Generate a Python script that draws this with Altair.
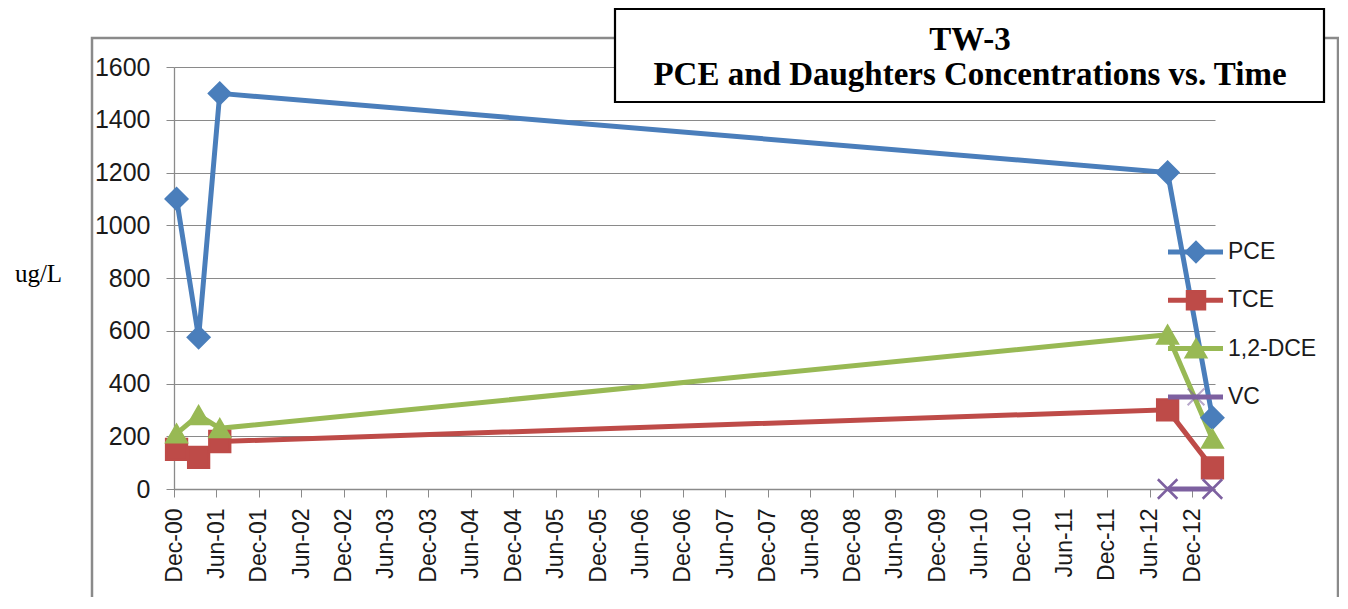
import altair as alt
import pandas as pd

# ---- data ----
dates = ["2000-12-12", "2001-03-17", "2001-06-16", "2012-08-18", "2013-02-27"]
pce = [1100, 575, 1500, 1200, 270]
tce = [150, 120, 180, 300, 80]
dce = [210, 280, 230, 585, 190]
vc = [None, None, None, 0, 0]

series = ["PCE", "TCE", "1,2-DCE", "VC"]
colors = ["#4A7EBB", "#BE4B48", "#98B954", "#7D60A0"]
shapes = ["diamond", "square", "triangle-up", "M-1,-1L1,1M-1,1L1,-1"]
sizes = [460, 380, 480, 330]
y_ticks = [0, 200, 400, 600, 800, 1000, 1200, 1400, 1600]
title_lines = ["TW-3", "PCE and Daughters Concentrations vs. Time"]
y_title = "ug/L"

rows = []
for name, vals in zip(series, [pce, tce, dce, vc]):
    for d, v in zip(dates, vals):
        if v is not None:
            rows.append({"date": d, "value": v, "series": name})
df = pd.DataFrame(rows)

tick_vals = []
for i in range(25):
    if i % 2 == 0:
        tick_vals.append(alt.DateTime(year=2000 + i // 2, month=12, date=1, utc=True))
    else:
        tick_vals.append(alt.DateTime(year=2000 + (i + 1) // 2, month=6, date=1, utc=True))

GRAY = "#8A8A8A"
W, H = 1041, 422

x_enc = alt.X(
    "date:T",
    title=None,
    scale=alt.Scale(
        type="utc",
        domain=[alt.DateTime(year=2000, month=12, date=1, utc=True),
                alt.DateTime(year=2013, month=3, date=10, utc=True)],
    ),
    axis=alt.Axis(
        values=tick_vals, format="%b-%y", labelAngle=-90, labelAlign="right",
        labelBaseline="middle", labelFont="Liberation Sans", labelFontSize=23,
        labelColor="#1a1a1a", labelPadding=11, labelOverlap=False, tickSize=8,
        tickColor=GRAY, domainColor=GRAY, domainWidth=1.3, grid=False,
    ),
)
y_enc = alt.Y(
    "value:Q",
    scale=alt.Scale(domain=[0, 1600], nice=False, zero=True),
    axis=alt.Axis(
        values=y_ticks, format="d", grid=True, gridColor=GRAY, gridWidth=1.2,
        labelFont="Liberation Sans", labelFontSize=25, labelColor="#1a1a1a",
        labelPadding=16, tickSize=8, tickColor=GRAY, domainColor=GRAY, domainWidth=1.3,
        title=y_title, titleAngle=0, titleFont="Liberation Serif", titleFontSize=25,
        titleFontWeight="normal", titleColor="#000000", titleX=-136, titleY=206,
        titleAlign="center", titleBaseline="middle",
    ),
)
color_scale = alt.Scale(domain=series, range=colors)

base = alt.Chart(df)
lines = base.mark_line(strokeWidth=5).encode(
    x=x_enc, y=y_enc,
    color=alt.Color("series:N", scale=color_scale, legend=None),
    detail="series:N",
)
points = base.mark_point(filled=True, strokeWidth=2.5, opacity=1).encode(
    x=x_enc, y=y_enc,
    fill=alt.Fill("series:N", scale=color_scale, legend=None),
    stroke=alt.Stroke("series:N", scale=color_scale, legend=None),
    shape=alt.Shape("series:N", scale=alt.Scale(domain=series, range=shapes), legend=None),
    size=alt.Size("series:N", scale=alt.Scale(domain=series, range=sizes), legend=None),
)

one = pd.DataFrame({"k": [0]})
frame = alt.Chart(one).mark_rect(fill="transparent", stroke=GRAY, strokeWidth=2.5).encode(
    x=alt.value(-82), x2=alt.value(1164), y=alt.value(-29), y2=alt.value(620)
)

legend_layers = []
for i, name in enumerate(series):
    ly = 185 + 48.3 * i
    ldf = pd.DataFrame({"series": [name]})
    lc = alt.Chart(ldf)
    legend_layers.append(
        lc.mark_rule(strokeWidth=5, color=colors[i]).encode(
            x=alt.value(994), x2=alt.value(1049), y=alt.value(ly))
    )
    legend_layers.append(
        lc.mark_point(shape=shapes[i], size=sizes[i] * 0.85, filled=True, fill=colors[i],
                      stroke=colors[i], strokeWidth=2 if i == 3 else 2.5,
                      opacity=0.55 if i == 3 else 1).encode(
            x=alt.value(1022), y=alt.value(ly))
    )
    legend_layers.append(
        lc.mark_text(align="left", baseline="middle", font="Liberation Sans", fontSize=23,
                     color="#1a1a1a").encode(
            text="series:N", x=alt.value(1054), y=alt.value(ly))
    )

title_box = alt.Chart(one).mark_rect(fill="white", stroke="black", strokeWidth=2.2).encode(
    x=alt.value(441), x2=alt.value(1150), y=alt.value(-58), y2=alt.value(35)
)
title_text = []
for i, line in enumerate(title_lines):
    title_text.append(
        alt.Chart(pd.DataFrame({"t": [line]})).mark_text(
            align="center", baseline="alphabetic", font="Liberation Serif",
            fontSize=33, fontWeight="bold", color="black",
        ).encode(text="t:N", x=alt.value(796), y=alt.value(-17 + 35 * i))
    )

chart = alt.layer(
    frame, lines, points, *legend_layers, title_box, *title_text
).properties(
    width=W, height=H,
    padding={"left": 166, "top": 59, "right": 124, "bottom": 108},
    autosize=alt.AutoSizeParams(type="none"),
    background="white",
).configure_view(stroke="transparent")

chart.save("out.html", embed_options={"renderer": "svg", "actions": False})
